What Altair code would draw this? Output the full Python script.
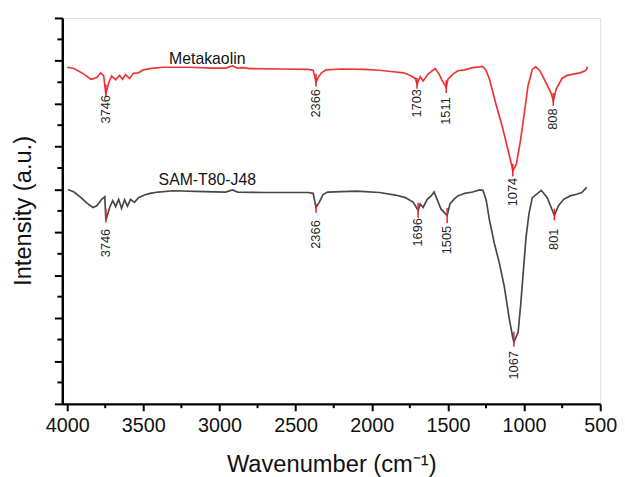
import altair as alt
import pandas as pd

# ---- data ----
meta_x = [4000, 3955, 3890, 3844, 3805, 3780, 3760, 3746, 3727, 3708, 3682, 3656, 3636, 3617,
          3591, 3565, 3532, 3500, 3435, 3370, 3200, 3050, 2960, 2915, 2880, 2850, 2800, 2600,
          2420, 2385, 2366, 2350, 2330, 2300, 2200, 2050, 1950, 1844, 1790, 1747, 1714, 1703,
          1682, 1663, 1630, 1584, 1558, 1539, 1511, 1500, 1467, 1435, 1390, 1337, 1292, 1273,
          1250, 1227, 1183, 1140, 1108, 1080, 1074, 1051, 1025, 1000, 974, 946, 924, 896, 859,
          822, 808, 789, 751, 718, 675, 632, 599, 590, 584]
meta_y = [7.85, 7.82, 7.69, 7.57, 7.61, 7.72, 7.65, 7.23, 7.49, 7.65, 7.56, 7.66, 7.57, 7.68,
          7.59, 7.71, 7.72, 7.79, 7.83, 7.85, 7.85, 7.83, 7.83, 7.88, 7.83, 7.84, 7.82, 7.81,
          7.80, 7.78, 7.51, 7.62, 7.72, 7.79, 7.81, 7.80, 7.78, 7.74, 7.72, 7.66, 7.59, 7.46,
          7.63, 7.53, 7.69, 7.82, 7.69, 7.55, 7.38, 7.57, 7.69, 7.77, 7.79, 7.84, 7.86, 7.87,
          7.78, 7.57, 6.97, 6.42, 5.96, 5.54, 5.43, 5.59, 6.11, 6.74, 7.42, 7.80, 7.86, 7.77, 7.51,
          7.24, 7.07, 7.34, 7.59, 7.66, 7.69, 7.72, 7.77, 7.80, 7.86]

sam_x = [3994, 3955, 3909, 3870, 3831, 3805, 3773, 3753, 3746, 3721, 3701, 3682, 3662, 3643,
         3623, 3604, 3584, 3558, 3532, 3493, 3455, 3403, 3305, 3100, 2960, 2915, 2880, 2700,
         2420, 2385, 2366, 2345, 2320, 2290, 2100, 1950, 1844, 1779, 1727, 1696, 1682, 1663,
         1636, 1610, 1591, 1571, 1545, 1526, 1505, 1487, 1461, 1435, 1390, 1337, 1292, 1270,
         1248, 1227, 1195, 1162, 1130, 1097, 1075, 1067, 1039, 1021, 1004, 987, 968, 946, 887,
         848, 822, 801, 774, 740, 697, 654, 621, 589]
sam_y = [5.00, 4.94, 4.81, 4.68, 4.58, 4.62, 4.77, 4.83, 4.28, 4.58, 4.74, 4.60, 4.77, 4.56,
         4.76, 4.61, 4.77, 4.70, 4.81, 4.87, 4.91, 4.94, 4.97, 4.95, 4.94, 4.99, 4.94, 4.93,
         4.93, 4.91, 4.58, 4.70, 4.88, 4.94, 4.96, 4.93, 4.87, 4.81, 4.70, 4.51, 4.66, 4.58,
         4.77, 4.85, 4.94, 4.77, 4.54, 4.47, 4.39, 4.66, 4.77, 4.85, 4.91, 4.94, 4.99, 4.98,
         4.74, 4.28, 3.74, 3.28, 2.74, 1.98, 1.56, 1.44, 1.67, 2.36, 3.13, 3.89, 4.43, 4.81, 4.98,
         4.81, 4.58, 4.39, 4.62, 4.77, 4.85, 4.89, 4.93, 5.05]

series_names = ["Metakaolin", "SAM-T80-J48"]
series_colors = ["#EE3535", "#474747"]
series_label_x = [3080, 3080]
series_label_y = [7.92, 5.10]

meta_peaks = [3746, 2366, 1703, 1511, 1074, 808]
meta_peak_label_y = [6.87, 7.01, 7.01, 6.83, 4.94, 6.64]
meta_seg_top = [7.45, 7.70, 7.60, 7.55, 5.60, 7.25]
meta_seg_bot = [7.15, 7.40, 7.35, 7.25, 5.30, 6.95]

sam_peaks = [3746, 2366, 1696, 1505, 1067, 801]
sam_peak_label_y = [3.75, 3.95, 4.00, 3.82, 0.90, 3.84]
sam_seg_top = [4.55, 4.67, 4.69, 4.57, 1.68, 4.55]
sam_seg_bot = [4.23, 4.46, 4.34, 4.21, 1.33, 4.28]

# axis ticks
x_major = [4000, 3500, 3000, 2500, 2000, 1500, 1000, 500]
x_minor = [3750, 3250, 2750, 2250, 1750, 1250, 750]
y_major = [0, 1, 2, 3, 4, 5, 6, 7, 8, 9]
y_minor = [0.5, 1.5, 2.5, 3.5, 4.5, 5.5, 6.5, 7.5, 8.5]

# ---- tables ----
lines = pd.concat([
    pd.DataFrame({"x": meta_x, "y": meta_y, "series": series_names[0]}),
    pd.DataFrame({"x": sam_x, "y": sam_y, "series": series_names[1]}),
])
series_df = pd.DataFrame({"x": series_label_x, "y": series_label_y, "name": series_names})
peaks_df = pd.DataFrame({
    "x": meta_peaks + sam_peaks,
    "ly": meta_peak_label_y + sam_peak_label_y,
    "top": meta_seg_top + sam_seg_top,
    "bot": meta_seg_bot + sam_seg_bot,
    "label": [str(v) for v in meta_peaks + sam_peaks],
})
xminor_df = pd.DataFrame({"x": x_minor})
yminor_df = pd.DataFrame({"y": y_minor})

FONT = "Liberation Sans"
X_LO, X_HI = 500, 4032
xs = alt.Scale(domain=[X_LO, X_HI], reverse=True, nice=False, zero=False)
ys = alt.Scale(domain=[0, 9], nice=False, zero=False)

x_axis = alt.Axis(values=x_major, title="Wavenumber (cm⁻¹)", format="d",
                  labelFontSize=20, labelFont=FONT, labelColor="#111",
                  labelPadding=5, labelFlush=False, labelOverlap=False,
                  tickSize=7, tickWidth=2, tickColor="#000",
                  domainWidth=2.5, domainColor="#000", grid=False,
                  titleFontSize=24, titleFont=FONT, titleFontWeight="normal",
                  titleColor="#111", titleBaseline="alphabetic", titleY=69,
                  orient="bottom")
y_axis = alt.Axis(values=y_major, labels=False, title="Intensity (a.u.)",
                  tickSize=8, tickWidth=2, tickColor="#000",
                  domainWidth=2.5, domainColor="#000", grid=False,
                  titleFontSize=24, titleFont=FONT, titleFontWeight="normal",
                  titleColor="#111", titleBaseline="alphabetic", titleX=-32,
                  titleY=195, titleAngle=270, titleAlign="center", orient="left")

line_layer = alt.Chart(lines).mark_line(strokeWidth=1.7).encode(
    x=alt.X("x:Q", scale=xs, axis=x_axis),
    y=alt.Y("y:Q", scale=ys, axis=y_axis),
    color=alt.Color("series:N", scale=alt.Scale(domain=series_names, range=series_colors),
                    legend=None),
    detail="series:N",
)

# minor ticks (short, just outside the axes)
xminor_layer = alt.Chart(xminor_df).mark_rule(color="#000", strokeWidth=2).encode(
    x=alt.X("x:Q", scale=xs), y=alt.datum(0), y2=alt.datum(-0.1))
yminor_layer = alt.Chart(yminor_df).mark_rule(color="#000", strokeWidth=2).encode(
    y=alt.Y("y:Q", scale=ys), x=alt.datum(X_HI), x2=alt.datum(X_HI + 32))

seg_layer = alt.Chart(peaks_df).mark_rule(color="#E8202A", strokeWidth=1.5).encode(
    x=alt.X("x:Q", scale=xs), y=alt.Y("top:Q", scale=ys), y2="bot:Q")

peak_text = alt.Chart(peaks_df).mark_text(angle=270, align="center", baseline="middle",
                                          fontSize=13, font=FONT, color="#222").encode(
    x=alt.X("x:Q", scale=xs), y=alt.Y("ly:Q", scale=ys), text="label:N")

series_text = alt.Chart(series_df).mark_text(align="center", baseline="alphabetic",
                                             fontSize=16, font=FONT, color="#111").encode(
    x=alt.X("x:Q", scale=xs), y=alt.Y("y:Q", scale=ys), text="name:N")

chart = alt.layer(line_layer, xminor_layer, yminor_layer, seg_layer, peak_text,
                  series_text).properties(
    width=545, height=391,
    autosize=alt.AutoSizeParams(type="none"),
    padding={"left": 55, "top": 7, "right": 17, "bottom": 71},
).configure_view(stroke="#000", strokeWidth=2.5).configure(background="white")

chart.save("out.html", embed_options={"renderer": "svg", "actions": False})
